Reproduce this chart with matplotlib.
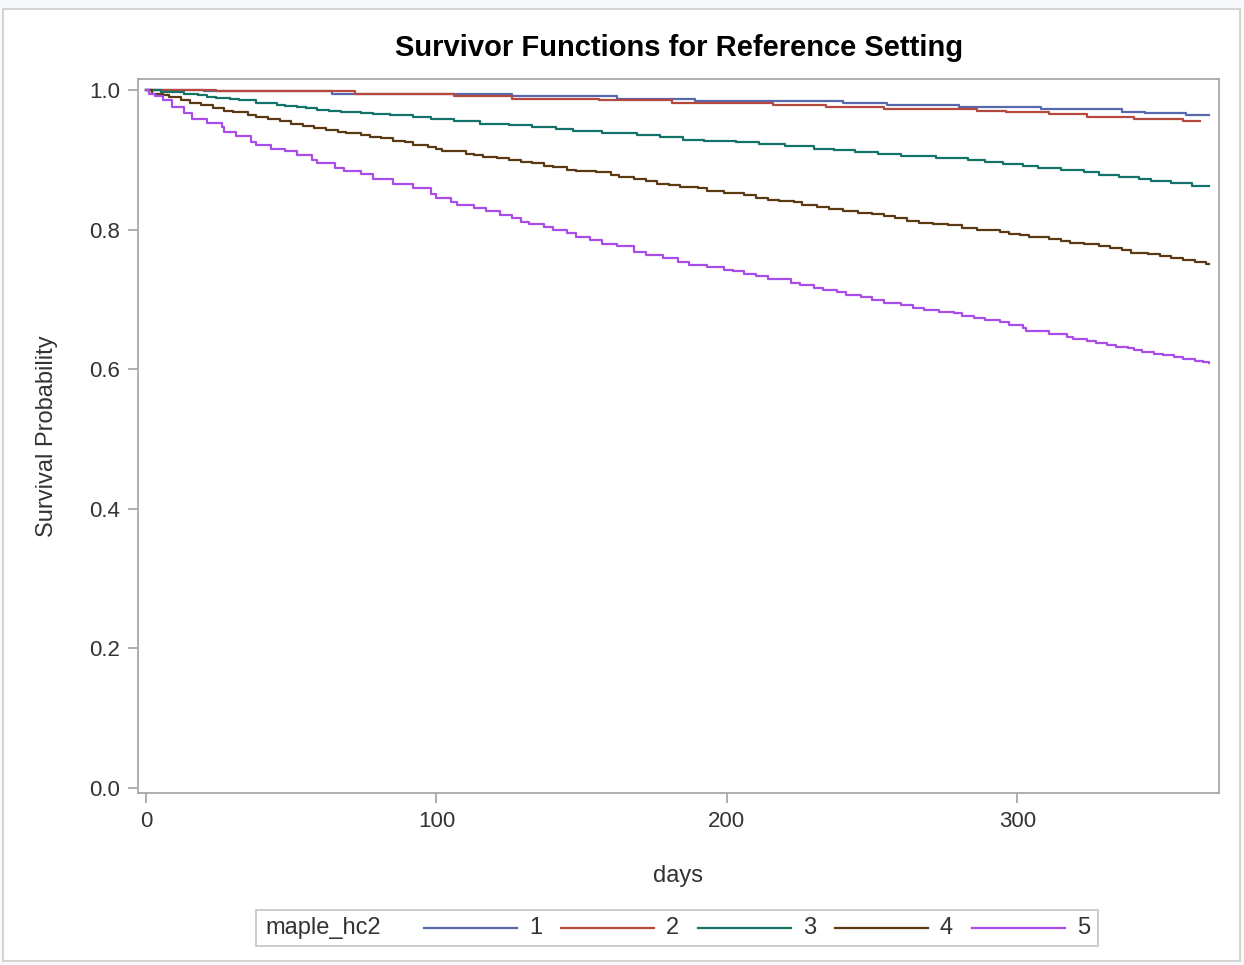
import matplotlib.pyplot as plt
from matplotlib.lines import Line2D
from matplotlib.patches import Rectangle

# survivor estimates per maple_hc2 group: (day of step, survival after step)
days_1 = [0, 20, 64, 126, 162, 189, 240, 255, 280, 308, 336, 344, 358, 366]
surv_1 = [1.000, 0.999, 0.995, 0.991, 0.987, 0.984, 0.981, 0.979, 0.976, 0.973, 0.969, 0.967, 0.964, 0.964]

days_2 = [0, 24, 72, 106, 126, 156, 181, 216, 234, 254, 286, 296, 311, 324, 340, 357, 363]
surv_2 = [1.000, 0.998, 0.995, 0.991, 0.987, 0.985, 0.982, 0.979, 0.976, 0.973, 0.970, 0.968, 0.965, 0.962,
          0.958, 0.956, 0.956]

days_3 = [0, 5, 13, 18, 21, 24, 29, 32, 38, 42, 45, 48, 52, 55, 59, 63, 67, 74, 78, 84, 92, 98, 102, 106,
          115, 125, 133, 141, 147, 157, 169, 177, 185, 192, 203, 211, 220, 230, 237, 244, 252, 260, 272,
          283, 289, 295, 302, 307, 315, 323, 328, 335, 342, 346, 353, 360, 366]
surv_3 = [1.000, 0.997, 0.994, 0.993, 0.990, 0.988, 0.987, 0.985, 0.982, 0.981, 0.979, 0.977, 0.975, 0.974,
          0.972, 0.970, 0.969, 0.967, 0.965, 0.964, 0.962, 0.959, 0.958, 0.955, 0.952, 0.950, 0.947, 0.944,
          0.942, 0.939, 0.936, 0.933, 0.929, 0.927, 0.925, 0.923, 0.920, 0.916, 0.914, 0.911, 0.908, 0.905,
          0.902, 0.900, 0.897, 0.894, 0.891, 0.888, 0.885, 0.882, 0.878, 0.876, 0.873, 0.870, 0.867, 0.863,
          0.863]

days_4 = [0, 2, 6, 8, 12, 15, 19, 23, 27, 30, 35, 38, 42, 46, 50, 54, 58, 62, 66, 69, 74, 77, 81, 85, 89,
          92, 97, 100, 102, 106, 110, 113, 116, 121, 125, 129, 133, 137, 140, 145, 148, 155, 160, 163, 168,
          172, 176, 180, 184, 190, 193, 199, 202, 206, 210, 214, 218, 223, 226, 231, 235, 240, 245, 250,
          254, 258, 262, 266, 271, 276, 281, 286, 294, 297, 301, 304, 309, 311, 315, 318, 323, 328, 332,
          336, 339, 345, 349, 353, 357, 361, 365, 366]
surv_4 = [1.000, 0.995, 0.993, 0.990, 0.986, 0.982, 0.979, 0.974, 0.970, 0.968, 0.964, 0.961, 0.958, 0.955,
          0.952, 0.949, 0.945, 0.943, 0.940, 0.938, 0.936, 0.933, 0.931, 0.927, 0.925, 0.921, 0.919, 0.915,
          0.913, 0.912, 0.909, 0.907, 0.904, 0.902, 0.900, 0.897, 0.895, 0.891, 0.889, 0.886, 0.884, 0.882,
          0.878, 0.875, 0.872, 0.870, 0.866, 0.864, 0.861, 0.859, 0.855, 0.853, 0.852, 0.850, 0.846, 0.843,
          0.841, 0.839, 0.835, 0.833, 0.830, 0.827, 0.824, 0.822, 0.819, 0.816, 0.813, 0.810, 0.808, 0.806,
          0.803, 0.800, 0.797, 0.794, 0.792, 0.790, 0.789, 0.786, 0.784, 0.781, 0.779, 0.776, 0.774, 0.771,
          0.767, 0.765, 0.762, 0.759, 0.756, 0.754, 0.751, 0.751]

days_5 = [0, 1, 3, 6, 9, 13, 16, 21, 26, 27, 31, 36, 38, 43, 48, 52, 57, 59, 65, 68, 74, 78, 85, 92, 98,
          100, 105, 107, 113, 117, 122, 126, 129, 132, 137, 140, 145, 148, 153, 157, 162, 168, 172, 178,
          183, 187, 193, 199, 202, 206, 210, 214, 222, 225, 230, 233, 238, 241, 246, 250, 254, 260, 264,
          268, 273, 278, 281, 285, 289, 294, 297, 302, 303, 311, 317, 319, 324, 327, 331, 334, 338, 340,
          343, 347, 350, 354, 357, 361, 364, 366]
surv_5 = [1.000, 0.995, 0.991, 0.986, 0.976, 0.967, 0.959, 0.953, 0.947, 0.940, 0.934, 0.926, 0.921, 0.915,
          0.912, 0.907, 0.900, 0.895, 0.888, 0.884, 0.880, 0.873, 0.866, 0.859, 0.851, 0.846, 0.840, 0.835,
          0.831, 0.826, 0.821, 0.816, 0.811, 0.808, 0.804, 0.799, 0.795, 0.790, 0.785, 0.780, 0.777, 0.768,
          0.764, 0.759, 0.754, 0.750, 0.747, 0.742, 0.740, 0.736, 0.733, 0.729, 0.724, 0.721, 0.717, 0.713,
          0.710, 0.706, 0.703, 0.699, 0.695, 0.692, 0.688, 0.685, 0.682, 0.680, 0.676, 0.674, 0.670, 0.667,
          0.663, 0.659, 0.655, 0.650, 0.646, 0.643, 0.641, 0.638, 0.635, 0.632, 0.630, 0.627, 0.624, 0.622,
          0.620, 0.618, 0.615, 0.612, 0.610, 0.609]

groups = ['1', '2', '3', '4', '5']
group_days = [days_1, days_2, days_3, days_4, days_5]
group_surv = [surv_1, surv_2, surv_3, surv_4, surv_5]
colors = ['#5868AE', '#B5493E', '#137369', '#5A3913', '#A94CE8']

x_ticks = [0, 100, 200, 300]
y_ticks = [0.0, 0.2, 0.4, 0.6, 0.8, 1.0]

plt.rcParams['font.family'] = ['Liberation Sans', 'DejaVu Sans']
axis_gray = '#A8A8A8'
text_color = '#333333'

fig = plt.figure(figsize=(12.44, 9.65), dpi=100)
fig.patch.set_facecolor('#F8F9FD')

# white panel with thin gray frame
fig.add_artist(Rectangle((3 / 1244, 4 / 965), 1237 / 1244, 952 / 965, transform=fig.transFigure,
                         facecolor='white', edgecolor='#D4D4D4', linewidth=1.5, zorder=-1))

ax = fig.add_axes([138 / 1244, 1 - 793 / 965, (1219 - 138) / 1244, (793 - 79) / 965])
ax.set_facecolor('white')

for label, d, s, c in zip(groups, group_days, group_surv, colors):
    ax.step(d, s, where='post', color=c, linewidth=1.6, label=label)

ax.set_xlim(-2.75, 369.4)
ax.set_ylim(-0.0072, 1.0158)
ax.set_xticks(x_ticks)
ax.set_xticklabels([str(t) for t in x_ticks])
ax.set_yticks(y_ticks)
ax.set_yticklabels([f'{t:.1f}' for t in y_ticks])

for side in ax.spines.values():
    side.set_color(axis_gray)
    side.set_linewidth(1.3)
ax.tick_params(axis='both', colors=axis_gray, labelcolor=text_color, labelsize=16,
               length=7, width=1.3, direction='out', pad=6)

ax.set_xlabel('days', fontsize=17, color=text_color, labelpad=24)
ax.set_ylabel('Survival Probability', fontsize=17, color=text_color, labelpad=22)

fig.text(679 / 1244, 1 - 48 / 965, 'Survivor Functions for Reference Setting', ha='center', va='center',
         fontsize=21, fontweight='bold', color='black')

# legend strip along the bottom
fig.add_artist(Rectangle((256 / 1244, 1 - 946 / 965), (1098 - 256) / 1244, 36 / 965,
                         transform=fig.transFigure, facecolor='white', edgecolor='#C8C8C8', linewidth=1.3))
ly = 1 - 928 / 965
fig.text(265 / 1244, ly, 'maple_hc2', ha='left', va='center', fontsize=17, color=text_color)
line_starts = [424, 561, 698, 835, 972]
for label, c, x0 in zip(groups, colors, line_starts):
    fig.add_artist(Line2D([x0 / 1244, (x0 + 93) / 1244], [ly, ly], transform=fig.transFigure,
                          color=c, linewidth=1.6))
    fig.text((x0 + 105) / 1244, ly, label, ha='left', va='center', fontsize=17, color=text_color)

fig.savefig('out.png', dpi=100, facecolor=fig.get_facecolor())
